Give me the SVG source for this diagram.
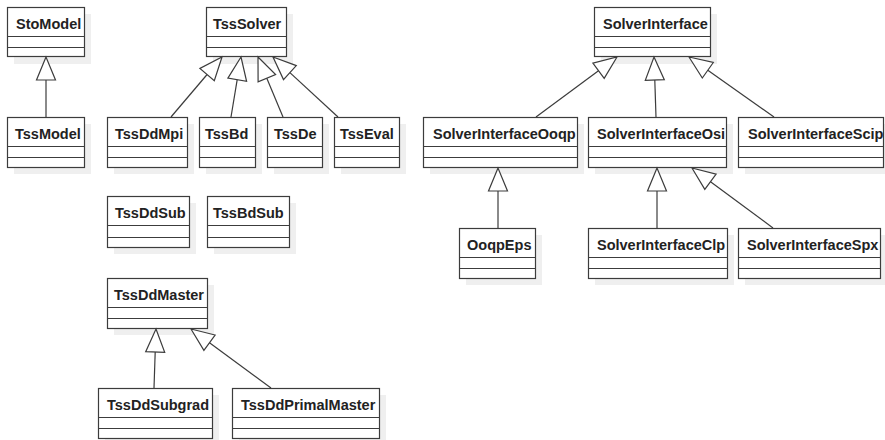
<svg xmlns="http://www.w3.org/2000/svg" width="885" height="440" viewBox="0 0 885 440">
<style>
.sh{fill:#efefef;stroke:none}
.bx{fill:#fff;stroke:#3c3c3c;stroke-width:1.2}
.dv{stroke:#3c3c3c;stroke-width:1.2}
.t{font-family:"Liberation Sans",Arial,sans-serif;font-weight:bold;font-size:14.5px;fill:#222}
.cn line{stroke:#3c3c3c;stroke-width:1.2;fill:none}
.cn polygon{fill:#fff;stroke:#3c3c3c;stroke-width:1.2;stroke-linejoin:miter}
</style>
<rect width="885" height="440" fill="#fff"/>
<g id="StoModel"><rect class="sh" x="14" y="14" width="77" height="50"/><rect class="bx" x="7.5" y="7.5" width="77" height="49"/><line class="dv" x1="7.5" y1="36.5" x2="84.5" y2="36.5"/><line class="dv" x1="7.5" y1="47.5" x2="84.5" y2="47.5"/><text class="t" x="16" y="29">StoModel</text></g>
<g id="TssModel"><rect class="sh" x="14" y="124" width="77" height="50"/><rect class="bx" x="7.5" y="117.5" width="77" height="50"/><line class="dv" x1="7.5" y1="146.5" x2="84.5" y2="146.5"/><line class="dv" x1="7.5" y1="157.5" x2="84.5" y2="157.5"/><text class="t" x="15" y="139">TssModel</text></g>
<g id="TssSolver"><rect class="sh" x="213" y="14" width="80" height="50"/><rect class="bx" x="206.5" y="7.5" width="80" height="49"/><line class="dv" x1="206.5" y1="36.5" x2="286.5" y2="36.5"/><line class="dv" x1="206.5" y1="47.5" x2="286.5" y2="47.5"/><text class="t" x="213" y="29">TssSolver</text></g>
<g id="TssDdMpi"><rect class="sh" x="114" y="124" width="80" height="50"/><rect class="bx" x="107.5" y="117.5" width="80" height="50"/><line class="dv" x1="107.5" y1="146.5" x2="187.5" y2="146.5"/><line class="dv" x1="107.5" y1="157.5" x2="187.5" y2="157.5"/><text class="t" x="115" y="139">TssDdMpi</text></g>
<g id="TssBd"><rect class="sh" x="206" y="124" width="56" height="50"/><rect class="bx" x="199.5" y="117.5" width="56" height="50"/><line class="dv" x1="199.5" y1="146.5" x2="255.5" y2="146.5"/><line class="dv" x1="199.5" y1="157.5" x2="255.5" y2="157.5"/><text class="t" x="205" y="139">TssBd</text></g>
<g id="TssDe"><rect class="sh" x="274" y="124" width="55" height="50"/><rect class="bx" x="267.5" y="117.5" width="55" height="50"/><line class="dv" x1="267.5" y1="146.5" x2="322.5" y2="146.5"/><line class="dv" x1="267.5" y1="157.5" x2="322.5" y2="157.5"/><text class="t" x="274" y="139">TssDe</text></g>
<g id="TssEval"><rect class="sh" x="341" y="124" width="65" height="50"/><rect class="bx" x="334.5" y="117.5" width="65" height="50"/><line class="dv" x1="334.5" y1="146.5" x2="399.5" y2="146.5"/><line class="dv" x1="334.5" y1="157.5" x2="399.5" y2="157.5"/><text class="t" x="340" y="139">TssEval</text></g>
<g id="SolverInterface"><rect class="sh" x="601" y="14" width="116" height="50"/><rect class="bx" x="594.5" y="7.5" width="116" height="49"/><line class="dv" x1="594.5" y1="36.5" x2="710.5" y2="36.5"/><line class="dv" x1="594.5" y1="47.5" x2="710.5" y2="47.5"/><text class="t" x="603" y="29">SolverInterface</text></g>
<g id="SolverInterfaceOoqp"><rect class="sh" x="430" y="124" width="154" height="50"/><rect class="bx" x="423.5" y="117.5" width="154" height="50"/><line class="dv" x1="423.5" y1="146.5" x2="577.5" y2="146.5"/><line class="dv" x1="423.5" y1="157.5" x2="577.5" y2="157.5"/><text class="t" x="433" y="139">SolverInterfaceOoqp</text></g>
<g id="SolverInterfaceOsi"><rect class="sh" x="595" y="124" width="138" height="50"/><rect class="bx" x="588.5" y="117.5" width="138" height="50"/><line class="dv" x1="588.5" y1="146.5" x2="726.5" y2="146.5"/><line class="dv" x1="588.5" y1="157.5" x2="726.5" y2="157.5"/><text class="t" x="597" y="139">SolverInterfaceOsi</text></g>
<g id="SolverInterfaceScip"><rect class="sh" x="745" y="124" width="145" height="50"/><rect class="bx" x="738.5" y="117.5" width="145" height="50"/><line class="dv" x1="738.5" y1="146.5" x2="883.5" y2="146.5"/><line class="dv" x1="738.5" y1="157.5" x2="883.5" y2="157.5"/><text class="t" x="748" y="139">SolverInterfaceScip</text></g>
<g id="TssDdSub"><rect class="sh" x="114" y="203" width="82" height="51"/><rect class="bx" x="107.5" y="196.5" width="82" height="51"/><line class="dv" x1="107.5" y1="225.5" x2="189.5" y2="225.5"/><line class="dv" x1="107.5" y1="237.5" x2="189.5" y2="237.5"/><text class="t" x="115" y="218">TssDdSub</text></g>
<g id="TssBdSub"><rect class="sh" x="214" y="203" width="82" height="51"/><rect class="bx" x="207.5" y="196.5" width="82" height="51"/><line class="dv" x1="207.5" y1="225.5" x2="289.5" y2="225.5"/><line class="dv" x1="207.5" y1="237.5" x2="289.5" y2="237.5"/><text class="t" x="213" y="218">TssBdSub</text></g>
<g id="TssDdMaster"><rect class="sh" x="114" y="285" width="100" height="50"/><rect class="bx" x="107.5" y="278.5" width="100" height="50"/><line class="dv" x1="107.5" y1="307.5" x2="207.5" y2="307.5"/><line class="dv" x1="107.5" y1="318.5" x2="207.5" y2="318.5"/><text class="t" x="114" y="300">TssDdMaster</text></g>
<g id="TssDdSubgrad"><rect class="sh" x="105" y="395" width="114" height="50"/><rect class="bx" x="98.5" y="388.5" width="114" height="50"/><line class="dv" x1="98.5" y1="417.5" x2="212.5" y2="417.5"/><line class="dv" x1="98.5" y1="428.5" x2="212.5" y2="428.5"/><text class="t" x="107" y="410">TssDdSubgrad</text></g>
<g id="TssDdPrimalMaster"><rect class="sh" x="239" y="395" width="147" height="50"/><rect class="bx" x="232.5" y="388.5" width="147" height="50"/><line class="dv" x1="232.5" y1="417.5" x2="379.5" y2="417.5"/><line class="dv" x1="232.5" y1="428.5" x2="379.5" y2="428.5"/><text class="t" x="241" y="410">TssDdPrimalMaster</text></g>
<g id="OoqpEps"><rect class="sh" x="466" y="235" width="76" height="50"/><rect class="bx" x="459.5" y="228.5" width="76" height="50"/><line class="dv" x1="459.5" y1="257.5" x2="535.5" y2="257.5"/><line class="dv" x1="459.5" y1="268.5" x2="535.5" y2="268.5"/><text class="t" x="467" y="250">OoqpEps</text></g>
<g id="SolverInterfaceClp"><rect class="sh" x="595" y="235" width="139" height="50"/><rect class="bx" x="588.5" y="228.5" width="139" height="50"/><line class="dv" x1="588.5" y1="257.5" x2="727.5" y2="257.5"/><line class="dv" x1="588.5" y1="268.5" x2="727.5" y2="268.5"/><text class="t" x="597" y="250">SolverInterfaceClp</text></g>
<g id="SolverInterfaceSpx"><rect class="sh" x="745" y="235" width="142" height="50"/><rect class="bx" x="738.5" y="228.5" width="142" height="50"/><line class="dv" x1="738.5" y1="257.5" x2="880.5" y2="257.5"/><line class="dv" x1="738.5" y1="268.5" x2="880.5" y2="268.5"/><text class="t" x="747" y="250">SolverInterfaceSpx</text></g>
<g id="connectors" class="cn">
<line x1="46" y1="117" x2="46" y2="80"/><polygon points="46,57 36.5,80 55.5,80"/>
<line x1="171" y1="117" x2="207.1" y2="74.5"/><polygon points="222,57 214.3,80.7 199.9,68.4"/>
<line x1="231" y1="117" x2="237.2" y2="79.7"/><polygon points="241,57 246.6,81.3 227.9,78.1"/>
<line x1="283" y1="117" x2="266.8" y2="78.2"/><polygon points="258,57 275.6,74.6 258.1,81.9"/>
<line x1="338" y1="117" x2="289.9" y2="72.6"/><polygon points="273,57 296.3,65.6 283.5,79.6"/>
<line x1="536" y1="117" x2="598.5" y2="70.7"/><polygon points="617,57 604.2,78.3 592.9,63.1"/>
<line x1="656" y1="117" x2="654.8" y2="80"/><polygon points="654,57 664.3,79.7 645.3,80.3"/>
<line x1="774" y1="117" x2="707.8" y2="70.3"/><polygon points="689,57 713.3,62.5 702.3,78"/>
<line x1="498" y1="228" x2="498" y2="191"/><polygon points="498,168 488.5,191 507.5,191"/>
<line x1="657" y1="228" x2="657" y2="191"/><polygon points="657,168 647.5,191 666.5,191"/>
<line x1="773" y1="228" x2="710.5" y2="181.7"/><polygon points="692,168 716.1,174.1 704.8,189.3"/>
<line x1="154" y1="388" x2="155.2" y2="352"/><polygon points="156,329 164.7,352.3 145.7,351.7"/>
<line x1="271" y1="388" x2="209.5" y2="342.7"/><polygon points="191,329 215.1,335 203.9,350.3"/>
</g>
</svg>
